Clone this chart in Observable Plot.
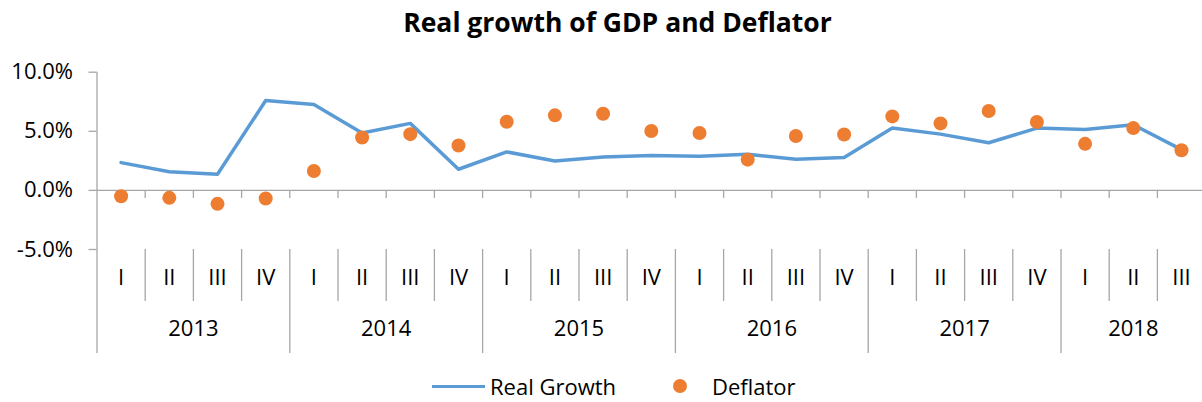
<!DOCTYPE html>
<html>
<head>
<meta charset="utf-8">
<script src="https://cdn.jsdelivr.net/npm/d3@7"></script>
<script src="https://cdn.jsdelivr.net/npm/@observablehq/plot@0.6"></script>
<style>
  body { margin: 0; background: #fff; font-family: "Open Sans", sans-serif; color: #000; }
  #wrap { position: relative; width: 1202px; height: 402px; overflow: hidden; }
  #title { position: absolute; left: 0; top: 6px; width: 1202px; padding-left: 33px; box-sizing: border-box;
           text-align: center; font-weight: bold; font-size: 26.5px; line-height: 32px; }
  #chart { position: absolute; left: 0; top: 46px; }
  .leg { position: absolute; font-size: 22px; line-height: 24px; top: 374px; white-space: nowrap; }
  #legLine { position: absolute; left: 432px; top: 384.5px; width: 53px; height: 3.5px; background: #5B9BD5; }
  #legDot { position: absolute; left: 673px; top: 379px; width: 14px; height: 14px; border-radius: 50%; background: #ED7D31; }
</style>
</head>
<body>
<div id="wrap">
  <div id="title">Real growth of GDP and Deflator</div>
  <div id="chart"></div>
  <div id="legLine"></div>
  <div class="leg" style="left:490px">Real Growth</div>
  <div id="legDot"></div>
  <div class="leg" style="left:712px">Deflator</div>
</div>
<script>
// ---- data ----
const years = ["2013", "2014", "2015", "2016", "2017", "2018"];
const quarterNames = ["I", "II", "III", "IV"];
const quartersPerYear = [4, 4, 4, 4, 4, 3];
const realGrowth = [2.35, 1.58, 1.36, 7.6, 7.26, 4.85, 5.67, 1.79, 3.26, 2.49, 2.83, 2.95,
                    2.89, 3.06, 2.64, 2.78, 5.27, 4.76, 4.03, 5.27, 5.16, 5.56, 3.45];
const deflator = [-0.49, -0.63, -1.14, -0.68, 1.64, 4.48, 4.76, 3.8, 5.81, 6.35, 6.49, 5.02,
                  4.85, 2.6, 4.6, 4.73, 6.26, 5.67, 6.72, 5.79, 3.94, 5.27, 3.4];
const yTicks = [-5, 0, 5, 10];

// ---- derived table ----
const rows = [];
years.forEach((y, yi) => {
  for (let q = 0; q < quartersPerYear[yi]; q++) {
    const i = rows.length;
    rows.push({i, year: y, q, quarter: quarterNames[q], growth: realGrowth[i], deflator: deflator[i]});
  }
});
const yearRows = years.map(y => {
  const r = rows.filter(d => d.year === y);
  return {year: y, center: d3.mean(r, d => d.i + 0.5)};
});
const bounds = rows.filter(d => d.i > 0);
const quarterBounds = bounds.filter(d => d.q !== 0).map(d => d.i);
const yearBounds = bounds.filter(d => d.q === 0).map(d => d.i);
const allBounds = bounds.map(d => d.i);

const gray = "#a6a6a6";
const H = 322, mTop = 25.7, mBottom = 119;
const frameH = H - mTop - mBottom;

const chart = Plot.plot({
  width: 1202,
  height: H,
  marginTop: mTop,
  marginBottom: mBottom,
  marginLeft: 96.5,
  marginRight: 0,
  style: {fontFamily: "'Open Sans', sans-serif", color: "#000", background: "transparent", overflow: "visible"},
  x: {type: "linear", domain: [0, rows.length], range: [96.5, 96.5 + 48.2 * rows.length], axis: null},
  y: {domain: [-5, 10]},
  marks: [
    Plot.ruleY([0], {stroke: gray, strokeWidth: 1.3}),
    Plot.ruleX([0], {stroke: gray, strokeWidth: 1.3, insetBottom: -104}),
    Plot.ruleX(allBounds, {x: d => d, y1: () => 0, y2: () => 0, insetBottom: -8, stroke: gray, strokeWidth: 1.3}),
    Plot.ruleX(quarterBounds, {x: d => d, insetTop: frameH, insetBottom: -52, stroke: gray, strokeWidth: 1.3}),
    Plot.ruleX(yearBounds, {x: d => d, insetTop: frameH, insetBottom: -104, stroke: gray, strokeWidth: 1.3}),
    Plot.axisY(yTicks, {tickSize: 8, tickPadding: 16, tickFormat: d => d.toFixed(1) + "%",
      fontSize: 22, stroke: gray, strokeWidth: 1.3, fill: "#000", label: null}),
    Plot.lineY(rows, {x: d => d.i + 0.5, y: "growth", stroke: "#5B9BD5", strokeWidth: 3.5}),
    Plot.dot(rows, {x: d => d.i + 0.5, y: "deflator", r: 7, fill: "#ED7D31"}),
    Plot.text(rows, {x: d => d.i + 0.5, text: "quarter", frameAnchor: "bottom", dy: 35, fontSize: 22, fill: "#000"}),
    Plot.text(yearRows, {x: "center", text: "year", frameAnchor: "bottom", dy: 86, fontSize: 22, fill: "#000"})
  ]
});
document.getElementById("chart").appendChild(chart);
</script>
</body>
</html>
